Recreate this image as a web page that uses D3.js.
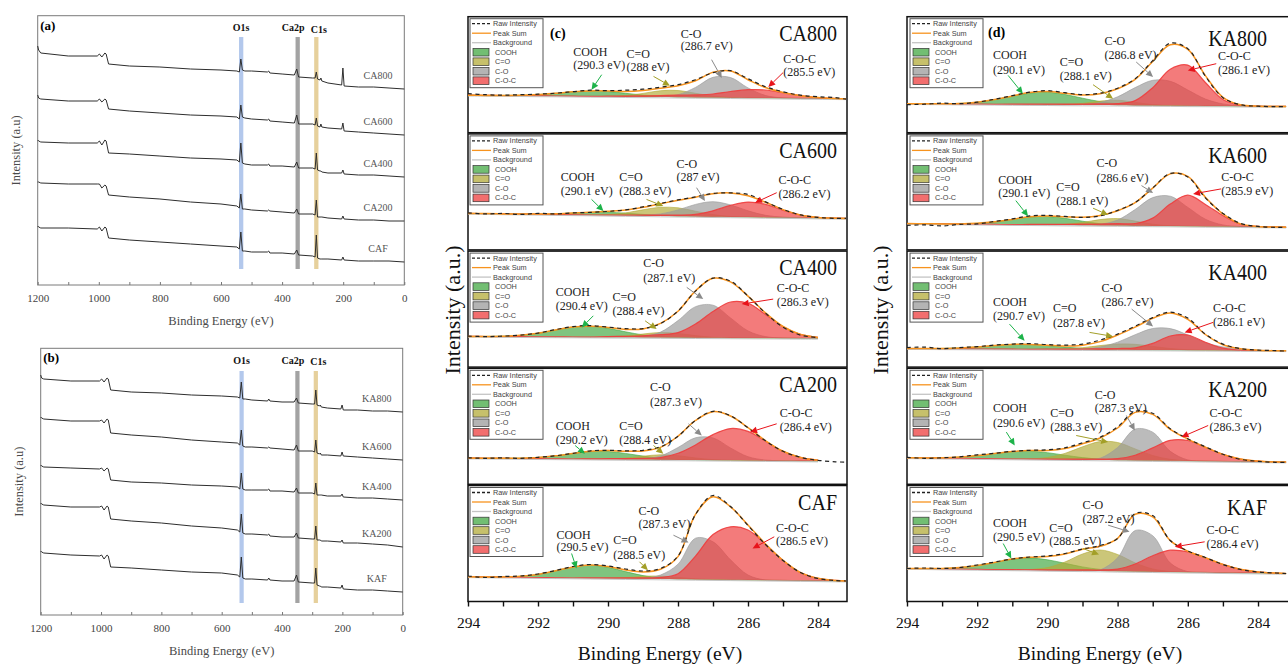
<!DOCTYPE html>
<html>
<head>
<meta charset="utf-8">
<script src="https://d3js.org/d3.v7.min.js"></script>
<style>
body { margin: 0; background: #fff; }
svg { display: block; }
svg text { font-family: "Liberation Serif", Tinos, "Times New Roman", Times, "DejaVu Serif", serif; }
</style>
</head>
<body>
<script>
// ---------- survey spectra (a), (b) ----------
var surveyEnergy = [1200, 1197, 1190, 1100, 1005, 998, 990, 980, 976, 968, 900, 800, 700, 600, 548, 540, 535, 530, 522, 500, 448, 444, 440, 400, 360, 352, 346, 300, 292, 288, 284, 276, 273, 270, 250, 205, 201, 197, 150, 100, 50, 0];
var surveyTicks = [1200, 1000, 800, 600, 400, 200, 0];

var ca800Survey = [239,235,232,229,229,231,228,232,231,221,219,218,216,215,214,213,226,215,214,214,213,214,212,211,210,216,208,207,207,213,206,205,207,204,202,200,217,199,198,198,197,196];
var ca600Survey = [190,187,186,184,184,186,183,186,185,176,174,172,170,169,168,166,180,168,167,166,165,166,164,163,162,170,161,161,160,167,159,158,161,158,157,156,162,154,153,152,151,150];
var ca400Survey = [145,144,143,142,142,144,140,145,144,132,131,129,127,126,125,123,142,122,121,120,120,121,119,119,118,123,117,117,116,132,115,114,114,113,112,112,115,111,110,110,109,108];
var ca200Survey = [103,103,102,101,101,101,97,100,99,90,88,86,83,81,79,77,91,76,76,75,74,75,74,73,72,76,71,71,70,85,68,68,68,68,67,66,69,66,65,65,64,64];
var cafSurvey   = [59,58,57,57,56,58,54,58,57,47,45,43,41,39,38,36,53,34,34,33,33,34,32,32,31,35,30,29,28,50,27,26,26,26,26,25,28,25,24,24,24,23];

var ka800Survey = [240,237,236,234,234,236,233,237,236,225,223,222,220,219,218,217,233,216,216,215,214,216,214,213,213,217,212,211,211,225,210,209,210,208,207,206,210,205,205,204,204,203];
var ka600Survey = [198,197,196,194,194,195,192,196,195,182,180,178,175,173,172,170,185,169,168,168,167,168,167,166,165,170,164,164,163,175,162,161,162,160,160,159,163,159,158,157,156,155];
var ka400Survey = [150,149,148,147,146,147,144,147,146,135,133,132,130,129,128,126,142,126,125,125,125,126,124,124,123,127,122,122,121,132,120,120,120,120,119,119,121,118,117,117,116,115];
var ka200Survey = [112,111,110,108,108,109,105,109,108,96,94,92,89,87,85,83,101,82,81,81,80,81,79,78,78,82,77,76,76,89,75,75,75,74,74,73,75,72,72,71,70,68];
var kafSurvey   = [64,63,62,60,59,60,56,60,59,48,47,45,43,42,40,38,58,37,36,36,35,37,35,34,34,40,33,32,32,47,30,29,29,28,28,27,30,26,25,25,24,23];

var caNames = ["CA800", "CA600", "CA400", "CA200", "CAF"];
var kaNames = ["KA800", "KA600", "KA400", "KA200", "KAF"];

var bandNames = ["O1s", "Ca2p", "C1s"];
var bandEnergy = [[541, 527], [356, 342], [295, 281]];

// ---------- C1s high resolution (c), (d) ----------
var hrEnergy = [294, 293.5, 293, 292.5, 292, 291.5, 291, 290.5, 290, 289.5, 289, 288.5, 288, 287.5, 287, 286.5, 286, 285.5, 285, 284.5, 284, 283.5, 283.2];
var hrTicks = [294, 292, 290, 288, 286, 284];
var hrMinorTicks = [293, 291, 289, 287, 285];
var componentNames = ["COOH", "C=O", "C-O", "C-O-C"];

var ca800Raw  = [39,38,37.5,38,38.5,39.5,41,42.5,42,42.5,43.5,45.5,48,53,60,62,54,46,41,37.5,36,35,33.5];
var ca800Bg   = [37.5,37.3,37.2,37,36.8,36.7,36.5,36.3,36.2,36,35.8,35.7,35.5,35.3,35.2,35,34.8,34.7,34.5,34.3,34.2,34,33.9];
var ca800Cooh = [0,0,0.1,0.4,1.3,2.7,4.4,5.5,5,3.4,1.8,0.7,0.2,0,0,0,0,0,0,0,0,0,0];
var ca800Cdo  = [0,0,0,0,0,0,0,0,0.2,1.1,3.5,6.3,6.7,4.1,1.5,0.3,0,0,0,0,0,0,0];
var ca800Co   = [0,0,0,0,0,0,0,0,0,0,0,0.3,2.5,10,20.2,20.2,10,2.5,0.3,0,0,0,0];
var ca800Coc  = [0,0,0,0,0,0,0,0,0.3,0.6,1,1.5,2,2.5,3.5,6.2,8.2,8,5.5,2.7,0.9,0.2,0];

var ca600Raw  = [37,36,36.5,35.5,36.5,36,37,37.5,38.5,40,43,46.5,50,53,56.5,57,55.5,48,40.5,35,32.5,31.5,31.5];
var ca600Bg   = [36.5,36.3,36,35.8,35.6,35.3,35.1,34.9,34.6,34.4,34.2,33.9,33.7,33.5,33.2,33,32.8,32.5,32.3,32.1,31.8,31.6,31.5];
var ca600Cooh = [0,0,0,0.1,0.2,0.8,1.7,2.7,3,2.3,1.3,0.5,0.1,0,0,0,0,0,0,0,0,0,0];
var ca600Cdo  = [0,0,0,0,0,0,0,0,0.7,2.6,5.9,8.7,8.4,5.2,2.1,0.5,0.1,0,0,0,0,0,0];
var ca600Co   = [0,0,0,0,0,0,0,0,0,0,0.5,2.1,6.3,12,15,12,6.3,2.1,0.5,0,0,0,0];
var ca600Coc  = [0,0,0,0,0,0,0,0,0.3,0.5,0.7,0.9,1.1,2,5.9,11.5,15,13,7.5,2.8,0.7,0.1,0];

var ca400Raw  = [31,30.5,31,32,34,37.5,40.5,41.5,40,38.5,38.5,43.5,56,76,89,86,71,54,40,32,29.5,null,null];
var ca400Bg   = [30.7,30.6,30.5,30.4,30.3,30.2,30.1,30,29.9,29.8,29.7,29.6,29.5,29.4,29.3,29.2,29.1,29,28.9,28.8,28.7,null,null];
var ca400Cooh = [0,0.1,0.4,1.4,3.5,6.9,10,10.9,8.9,5.5,2.5,0.9,0.2,0,0,0,0,0,0,0,0,null,null];
var ca400Cdo  = [0,0,0,0,0,0,0,0,0.3,1.4,3.4,5,4.2,2.1,0.6,0.1,0,0,0,0,0,null,null];
var ca400Co   = [0,0,0,0,0,0,0,0,0,0,1,5.4,17,31,32.6,20,7.1,1.5,0.2,0,0,null,null];
var ca400Coc  = [0,0,0,0,0,0,0,0,0.6,1,1.6,2.8,5,13.7,26.3,35.9,34.8,23.7,11.5,3.9,1,null,null];

var ca200Raw  = [26.5,26,26.5,26,27,28.5,31,33.5,34,33.5,34,37.5,48,64,73,68.5,56.5,43.5,33,27,24,22.5,22.2];
var ca200Bg   = [26.2,26.05,25.9,25.75,25.6,25.45,25.3,25.15,25,24.85,24.7,24.55,24.4,24.25,24.1,23.95,23.8,23.65,23.5,23.35,23.2,null,null];
var ca200Cooh = [0,0,0.1,0.4,1.2,3,5.5,7.6,7.8,6,3.5,1.5,0.5,0.1,0,0,0,0,0,0,0,null,null];
var ca200Cdo  = [0,0,0,0,0,0,0,0,0.3,1.4,3.4,5,4.2,2.1,0.6,0.1,0,0,0,0,0,null,null];
var ca200Co   = [0,0,0,0,0,0,0,0,0,0,0.6,3.8,12.4,22.3,22.3,12.4,3.8,0.6,0,0,0,null,null];
var ca200Coc  = [0,0,0,0,0,0,0,0.3,0.6,0.9,1.2,2.1,6.6,15.1,25.6,31.8,29.1,19.4,9.5,3.5,0.9,null,null];

var cafRaw  = [25.5,24,25,25.5,27.5,31,35,37,35.5,32.5,30.5,33,45.5,87,106,95,76,57,41,29,23,21,20.5];
var cafBg   = [24.7,24.5,24.3,24.1,23.9,23.7,23.5,23.3,23.1,22.9,22.7,22.5,22.3,22.1,21.9,21.7,21.5,21.3,21.1,20.9,20.7,20.5,20.4];
var cafCooh = [0,0,0.3,1.1,3.2,7,11.1,13,11.1,7,3.2,1.1,0.3,0,0,0,0,0,0,0,0,0,0];
var cafCdo  = [0,0,0,0,0,0,0,0,0.2,1,2.4,3,1.8,0.6,0.1,0,0,0,0,0,0,0,0];
var cafCo   = [0,0,0,0,0,0,0,0,0,0,0.4,4,15,41.2,37.8,20,5,0.2,0,0,0,0,0];
var cafCoc  = [0,0,0,0,0,0,0,0.3,0.5,0.7,0.9,1.6,5.5,23.3,45,53,50,36,20,8,2.5,0.6,0.1];

var ka800Raw  = [28,28.5,29.5,29,30.5,33.5,37,40.5,42,40,38,39.5,44.5,54,72,89.5,84,56.5,35,28,26.5,26,26];
var ka800Bg   = [29,28.9,28.8,28.6,28.5,28.4,28.2,28.1,28,27.8,27.7,27.6,27.5,27.3,27.2,27.1,26.9,26.8,26.7,26.5,26.4,26.3,26.3];
var ka800Cooh = [0,0,0.2,0.7,2,4.7,8.3,11.5,12.4,10.4,6.8,3.5,1.4,0.4,0.1,0,0,0,0,0,0,0,0];
var ka800Cdo  = [0,0,0,0,0,0,0,0,0,0.3,1.6,4,5,3,0.9,0.2,0,0,0,0,0,0,0];
var ka800Co   = [0,0,0,0,0,0,0,0,0,0,0.6,2.6,8.4,17.8,25.2,24.3,15.8,6.9,2.1,0.4,0,0,0];
var ka800Coc  = [0,0,0,0,0,0,0.3,0.5,0.7,0.9,1,1.2,1.6,4.8,17.8,36.4,40.7,23.4,6.6,1,0.1,0,0];

var ka600Raw  = [24.5,25,24,25.5,26,28.5,31,34,34.5,33.5,32.5,34,39.5,47.5,62,76.5,73,52,36.5,26.5,23.5,22.5,22.5];
var ka600Bg   = [26.3,26.1,26,25.8,25.7,25.5,25.3,25.2,25,24.8,24.7,24.5,24.4,24.2,24,23.9,23.7,23.5,23.4,23.2,23,22.9,22.7];
var ka600Cooh = [0,0,0,0.2,0.9,2.6,5.2,7.7,8.4,6.8,4,1.7,0.6,0.1,0,0,0,0,0,0,0,0,0];
var ka600Cdo  = [0,0,0,0,0,0,0,0,0,0.7,2.7,5.8,6.9,4.6,1.7,0.3,0,0,0,0,0,0,0];
var ka600Co   = [0,0,0,0,0,0,0,0,0,0,0.1,1.1,5.5,16.2,28.3,29.8,18.8,7.2,1.6,0.3,0,0,0];
var ka600Coc  = [0,0,0,0,0,0,0,0.3,0.5,0.8,1.1,1.4,1.8,2.2,7.8,22,31,22,11,2.5,0.5,0,0];

var ka400Raw  = [19.5,20,18.5,19.5,20.5,22,23,23.5,22.5,22,23,27,33,41,49.5,55,49,33,23,18.5,17,16.5,16];
var ka400Bg   = [18.5,18.4,18.3,18.2,18.1,18,17.9,17.8,17.7,17.6,17.5,17.4,17.3,17.2,17.1,17,16.9,16.8,16.7,16.6,16.5,16.4,16.3];
var ka400Cooh = [0,0.1,0.4,1,2.1,3.6,4.8,4.9,3.9,2.4,1.2,0.4,0.1,0,0,0,0,0,0,0,0,0,0];
var ka400Cdo  = [0,0,0,0,0,0,0,0,0.1,0.6,1.9,4.1,5.8,5.6,3.6,1.6,0.5,0.1,0,0,0,0,0];
var ka400Co   = [0,0,0,0,0,0,0,0,0,0,0.7,2.7,7.6,15.2,21.5,21.5,15.2,7.6,3.5,1.5,0.4,0,0];
var ka400Coc  = [0,0,0,0,0,0,0,0,0.2,0.4,0.6,0.9,1.3,2,6.6,14.1,15.2,8.1,2.2,0.3,0,0,0];

var ka200Raw  = [27,26,26.5,27.5,29.5,31,33,34,34.5,36.5,41.5,47,57.5,73,71,55.5,45.5,37.5,30,25,23,22,22];
var ka200Bg   = [26.5,26.3,26.1,25.9,25.7,25.5,25.3,25.1,24.9,24.7,24.5,24.3,24.1,23.9,23.7,23.5,23.3,23.1,22.9,22.7,22.5,22.3,22.2];
var ka200Cooh = [0,0.1,0.4,1.3,3,5.3,7.4,8,6.7,4.4,2.2,0.9,0.3,0,0,0,0,0,0,0,0,0,0];
var ka200Cdo  = [0,0,0,0,0,0,0,0.4,1.9,6.2,13,18.4,17.7,11.5,5.1,1.5,0.3,0,0,0,0,0,0];
var ka200Co   = [0,0,0,0,0,0,0,0,0,0,0.1,1.8,12.7,31.3,28.4,9.5,1.1,0,0,0,0,0,0];
var ka200Coc  = [0,0,0,0,0,0,0,0.2,0.3,0.5,0.7,0.9,1.5,5.2,12.7,20.5,20.5,14,7,2.5,0.7,0,0];

var kafRaw  = [33,33.5,33,34,36.5,39.5,42.5,44.5,45.5,48,52.5,56,63,88,86,61,50.5,44,37,32,29.5,28.5,28];
var kafBg   = [33,32.8,32.5,32.3,32.1,31.8,31.6,31.4,31.1,30.9,30.7,30.5,30.2,30,29.8,29.5,29.3,29.1,28.8,28.6,28.4,28.1,28];
var kafCooh = [0,0.1,0.5,1.6,3.9,7.3,10.6,12,10.6,7.3,3.9,1.6,0.5,0.1,0,0,0,0,0,0,0,0,0];
var kafCdo  = [0,0,0,0,0,0,0,0.6,2.8,8.6,16.8,21,16.8,8.6,2.8,0.6,0.1,0,0,0,0,0,0];
var kafCo   = [0,0,0,0,0,0,0,0,0,0,0,1.1,13.5,41,36,9,0.6,0,0,0,0,0,0];
var kafCoc  = [0,0,0,0,0,0,0.2,0.3,0.5,0.7,0.9,1,2.2,7.5,16,21.8,20.3,14.7,8.3,3.6,1.2,0.3,0];

// peak position labels
var ca800Peaks = ["(290.3 eV)", "(288 eV)", "(286.7 eV)", "(285.5 eV)"];
var ca600Peaks = ["(290.1 eV)", "(288.3 eV)", "(287 eV)", "(286.2 eV)"];
var ca400Peaks = ["(290.4 eV)", "(288.4 eV)", "(287.1 eV)", "(286.3 eV)"];
var ca200Peaks = ["(290.2 eV)", "(288.4 eV)", "(287.3 eV)", "(286.4 eV)"];
var cafPeaks   = ["(290.5 eV)", "(288.5 eV)", "(287.3 eV)", "(286.5 eV)"];
var ka800Peaks = ["(290.1 eV)", "(288.1 eV)", "(286.8 eV)", "(286.1 eV)"];
var ka600Peaks = ["(290.1 eV)", "(288.1 eV)", "(286.6 eV)", "(285.9 eV)"];
var ka400Peaks = ["(290.7 eV)", "(287.8 eV)", "(286.7 eV)", "(286.1 eV)"];
var ka200Peaks = ["(290.6 eV)", "(288.3 eV)", "(287.3 eV)", "(286.3 eV)"];
var kafPeaks   = ["(290.5 eV)", "(288.5 eV)", "(287.2 eV)", "(286.4 eV)"];

// annotation anchors in data units: [textE, line1, line2, tailE, tailV, tipE, tipV]
var ca800Notes = [[290.99,76.3,63.7,290.18,58,290.47,43],[289.47,74.7,61.3,288.7,56.3,288.23,47],[287.92,94.7,82.3,287.04,73,286.75,54.7],[284.99,69.7,56.3,285.0,60,285.42,45.7]];
var ca600Notes = [[291.35,68.8,54.8,290.47,50.5,290.13,38.8],[289.68,68.8,54.8,288.9,50.5,288.42,43.8],[288.04,82.2,68.8,287.47,62.2,287.23,48.8],[285.13,65.5,52.2,285.18,57.2,285.8,47.2]];
var ca400Notes = [[291.49,71.3,57.3,290.42,51.3,290.75,39.7],[289.87,66.3,52.3,288.94,46.3,288.61,38],[288.99,99.7,84.7,287.75,79.7,287.28,68],[285.18,74.7,60.7,285.28,68,286.18,63]];
var ca200Notes = [[291.49,54.5,40.5,290.94,38.8,290.66,30.5],[289.68,54.5,40.5,288.7,38.8,288.42,30.5],[288.8,93.2,78.8,287.7,60.5,287.32,48.8],[285.09,67.2,53.8,285.18,60.5,285.94,52.2]];
var cafNotes   = [[291.47,63,50.3,291.04,48,290.9,33],[289.85,58,43,289.1,39.7,288.86,31.3],[289.13,86.3,73.7,288.13,66.3,287.7,59],[285.2,69.7,57,285.25,64.7,285.87,53]];
var ka800Notes = [[291.55,74,59,291.12,57.3,290.7,39],[289.65,66.7,52.3,288.7,48,288.13,34],[288.37,88,74,287.47,70.7,286.99,55.7],[285.14,72.3,59,285.19,69,286,62.3]];
var ka600Notes = [[291.4,66,52.7,290.9,49.3,290.55,33.7],[289.75,59.3,45,288.7,41.7,288.27,35],[288.6,82.7,68.3,287.32,64.3,286.99,57],[285.05,69.3,55.3,285.05,61,285.85,56]];
var ka400Notes = [[291.55,61.3,47.3,291.08,43,290.65,26.3],[289.84,54.7,39.7,288.8,34.7,288.13,30.7],[288.46,75.3,60.7,287.6,58,286.99,40.7],[285.28,54.7,40.7,285.28,44.7,286.09,34.7]];
var ka200Notes = [[291.55,72.2,57.8,291.17,52.2,290.93,38.8],[289.92,67.2,53.8,289.18,48.8,288.27,42.2],[288.65,85.5,72.2,287.75,68.8,287.51,53.8],[285.38,67.2,53.8,285.42,58.8,286.18,47.2]];
var kafNotes   = [[291.55,74.7,60.3,291.26,58,291.03,43],[289.95,69.7,56.3,288.99,53,288.53,47],[289,93,79,288.27,76.3,287.66,69.7],[285.47,68,53.7,285.52,59.7,286.37,54.7]];

// ---------- styles ----------
var bandColors = ["#b3c8ec", "#a3a3a3", "#e6d09c"];
var compFill = ["#43a843", "#b3ab3a", "#9b9b9b", "#ee3d3d"];
var compArrow = ["#1db34a", "#a39f28", "#8a8a8a", "#e8141b"];
var SERIF = "'Liberation Serif', Tinos, 'Times New Roman', Times, 'DejaVu Serif', serif";
var SANS = "'Liberation Sans', Arimo, Arial, 'DejaVu Sans', sans-serif";

var _svg = d3.select("body").append("svg").attr("width", 1288).attr("height", 665)
    .attr("font-family", SERIF);

function _drawSurvey(box, names, series, tag) {
    var x = d3.scaleLinear().domain([1200, 0]).range([box.left, box.right]);
    var y = d3.scaleLinear().domain([0, box.bottom - box.top]).range([box.bottom, box.top]);
    var g = _svg.append("g");

    bandNames.forEach(function(name, i) {
        var x0 = x(bandEnergy[i][0]), x1 = x(bandEnergy[i][1]);
        g.append("rect").attr("x", x0).attr("y", box.bandTop).attr("width", x1 - x0)
            .attr("height", box.bandBottom - box.bandTop).style("fill", bandColors[i]);
        var shift = i == 1 ? -4.5 : (i == 2 ? 2.5 : 0);
        g.append("text").text(name).attr("x", (x0 + x1) / 2 + shift).attr("y", box.top + 15.5 + (i == 2 ? 1.5 : 0))
            .attr("text-anchor", "middle").style("font-weight", "bold").style("font-size", "10px").style("fill", "#111");
    });

    g.append("rect").attr("x", box.left).attr("y", box.top).attr("width", box.right - box.left)
        .attr("height", box.bottom - box.top).style("fill", "none").style("stroke", "#7a7a7a").style("stroke-width", 1);

    var line = d3.line().x(function(d) { return x(d[0]); }).y(function(d) { return y(d[1]); });
    series.forEach(function(s, i) {
        var pts = surveyEnergy.map(function(e, j) { return [e, s[j]]; });
        g.append("path").attr("d", line(pts)).style("fill", "none").style("stroke", "#2e2e2e").style("stroke-width", 1);
        g.append("text").text(names[i]).attr("x", x(86)).attr("y", y(s[s.length - 1] + 10))
            .attr("text-anchor", "middle").style("font-size", "10px").style("fill", "#555");
    });

    var ax = g.append("g").attr("transform", "translate(0," + box.bottom + ")")
        .call(d3.axisBottom(x).tickValues(surveyTicks).tickSize(0).tickPadding(9).tickFormat(d3.format("d")));
    ax.attr("font-family", null);
    ax.select(".domain").remove();
    ax.selectAll("text").style("font-size", "11px").style("fill", "#444");
    var mx = g.append("g").attr("transform", "translate(0," + box.bottom + ")")
        .call(d3.axisBottom(x).tickValues(d3.range(0, 1201, 100)).tickSize(-3).tickFormat(""));
    mx.select(".domain").remove();
    mx.selectAll("line").style("stroke", "#777");

    g.append("text").text("Binding Energy (eV)").attr("x", (box.left + box.right) / 2).attr("y", box.bottom + 40)
        .attr("text-anchor", "middle").style("font-size", "12.5px").style("fill", "#4a4a4a");
    g.append("text").text("Intensity (a.u)").attr("transform", "translate(" + box.ytitle + "," + ((box.top + box.bottom) / 2) + ") rotate(-90)")
        .attr("text-anchor", "middle").style("font-size", "12.5px").style("fill", "#4a4a4a");
    g.append("text").text(tag).attr("x", box.left + 2.5).attr("y", box.top + 14).style("font-weight", "bold").style("font-size", "13px");
}//EndFunction.

var _legendRows = [
    { label: "Raw Intensity", kind: "line", color: "#222", dash: "3,2" },
    { label: "Peak Sum", kind: "line", color: "#f7931e" },
    { label: "Background", kind: "line", color: "#c4c4c4" },
    { label: "COOH", kind: "box", color: compFill[0] },
    { label: "C=O", kind: "box", color: compFill[1] },
    { label: "C-O", kind: "box", color: compFill[2] },
    { label: "C-O-C", kind: "box", color: compFill[3] }
];

function _drawLegend(g, lx, ly) {
    g.append("rect").attr("x", lx).attr("y", ly).attr("width", 73).attr("height", 69)
        .style("fill", "#fff").style("stroke", "#555").style("stroke-width", 1);
    _legendRows.forEach(function(r, i) {
        var cy = ly + 5 + i * 9.5;
        if (r.kind == "line") {
            g.append("line").attr("x1", lx + 2).attr("x2", lx + 21).attr("y1", cy).attr("y2", cy)
                .style("stroke", r.color).style("stroke-width", 1.3).style("stroke-dasharray", r.dash || null);
            g.append("text").text(r.label).attr("x", lx + 23).attr("y", cy + 2.5)
                .style("font-family", SANS).style("font-size", "7.3px").style("fill", "#444");
        } else {
            g.append("rect").attr("x", lx + 3).attr("y", cy - 3.8).attr("width", 16).attr("height", 7.6)
                .style("fill", r.color).style("fill-opacity", 0.75).style("stroke", "#333").style("stroke-width", 0.7);
            g.append("text").text(r.label).attr("x", lx + 25).attr("y", cy + 2.5)
                .style("font-family", SANS).style("font-size", "7.3px").style("fill", "#444");
        }
    });
}//EndFunction.

function _arrow(g, x1, y1, x2, y2, color) {
    var ang = Math.atan2(y2 - y1, x2 - x1), L = 7, W = 3.3;
    var bx = x2 - L * Math.cos(ang), by = y2 - L * Math.sin(ang);
    g.append("line").attr("x1", x1).attr("y1", y1).attr("x2", bx).attr("y2", by)
        .style("stroke", color).style("stroke-width", 1);
    var pts = [[x2, y2], [bx + W * Math.sin(ang), by - W * Math.cos(ang)], [bx - W * Math.sin(ang), by + W * Math.cos(ang)]];
    g.append("polygon").attr("points", pts.map(function(p) { return p.join(","); }).join(" ")).style("fill", color);
}//EndFunction.

var _cols = [
    { left: 468, right: 847, span: 378, labelRight: 837, labelDy: 24, tagX: 550, tagY: 38, legendX: 470 },
    { left: 907, right: 1300, span: 379.1, labelRight: 1267, labelDy: 29, tagX: 988, tagY: 37, legendX: 910 }
];

function _drawHR(p) {
    var col = _cols[p.col];
    var top = 16.7 + p.row * 117.2, bottom = top + 116;
    var x = d3.scaleLinear().domain([294, 283.2]).range([col.left, col.left + col.span]);
    var y = d3.scaleLinear().domain([0, 116]).range([bottom, top]);
    var g = _svg.append("g");

    g.append("rect").attr("x", col.left).attr("y", top).attr("width", col.right - col.left).attr("height", bottom - top)
        .style("fill", "#fff").style("stroke", "#111").style("stroke-width", 1.5);

    var pts = hrEnergy.map(function(e, i) {
        var sum = null;
        if (p.bg[i] != null) {
            sum = p.bg[i];
            p.comps.forEach(function(c) { sum += c[i]; });
        }
        return { e: e, raw: p.raw[i], bg: p.bg[i], sum: sum, c: p.comps.map(function(c) { return c[i]; }) };
    });
    var curve = d3.curveCatmullRom.alpha(0.5);

    p.comps.forEach(function(c, k) {
        var area = d3.area().defined(function(d) { return d.bg != null; }).curve(curve)
            .x(function(d) { return x(d.e); }).y0(function(d) { return y(d.bg); }).y1(function(d) { return y(d.bg + d.c[k]); });
        g.append("path").attr("d", area(pts)).style("fill", compFill[k]).style("fill-opacity", 0.68);
        var top_ = d3.line().defined(function(d) { return d.bg != null; }).curve(curve)
            .x(function(d) { return x(d.e); }).y(function(d) { return y(d.bg + d.c[k]); });
        g.append("path").attr("d", top_(pts)).style("fill", "none").style("stroke", compFill[k])
            .style("stroke-width", k == 3 ? 1.2 : 0.7).style("stroke-opacity", 0.9);
    });

    var bgLine = d3.line().defined(function(d) { return d.bg != null; }).curve(curve)
        .x(function(d) { return x(d.e); }).y(function(d) { return y(d.bg) + 0.8; });
    g.append("path").attr("d", bgLine(pts)).style("fill", "none").style("stroke", "#c4c4c4").style("stroke-width", 1);

    var sumLine = d3.line().defined(function(d) { return d.sum != null; }).curve(curve)
        .x(function(d) { return x(d.e); }).y(function(d) { return y(d.sum); });
    g.append("path").attr("d", sumLine(pts)).style("fill", "none").style("stroke", "#f7931e").style("stroke-width", 1.5);

    var rawLine = d3.line().defined(function(d) { return d.raw != null; }).curve(curve)
        .x(function(d) { return x(d.e); }).y(function(d) { return y(d.raw); });
    g.append("path").attr("d", rawLine(pts)).style("fill", "none").style("stroke", "#222")
        .style("stroke-width", 1.2).style("stroke-dasharray", "4,3.5");

    _drawLegend(g, col.legendX, top + 2);

    //ANNOTATIONS.
    p.notes.forEach(function(n, k) {
        g.append("text").text(componentNames[k]).attr("x", x(n[0])).attr("y", y(n[1]))
            .style("font-size", "12px").style("fill", "#222");
        g.append("text").text(p.peaks[k]).attr("x", x(n[0])).attr("y", y(n[2]))
            .style("font-size", "12px").style("fill", "#222");
        _arrow(g, x(n[3]), y(n[4]), x(n[5]), y(n[6]), compArrow[k]);
    });

    g.append("text").text(p.name)
        .attr("transform", "translate(" + col.labelRight + "," + (top + col.labelDy) + ") scale(1,1.2)")
        .attr("text-anchor", "end").style("font-size", "20px").style("fill", "#111");

    if (p.row == 0) {
        g.append("text").text(p.col == 0 ? "(c)" : "(d)").attr("x", col.tagX).attr("y", col.tagY)
            .style("font-weight", "bold").style("font-size", "14px");
    }

    if (p.row == 4) {
        var ax = g.append("g").attr("transform", "translate(0," + bottom + ")")
            .call(d3.axisBottom(x).tickValues(hrTicks).tickSize(5).tickPadding(10).tickFormat(d3.format("d")));
        ax.attr("font-family", null);
        ax.select(".domain").remove();
        ax.selectAll("line").style("stroke", "#111").style("stroke-width", 1.4);
        ax.selectAll("text").style("font-size", "15.5px").style("fill", "#111");
        var mx = g.append("g").attr("transform", "translate(0," + bottom + ")")
            .call(d3.axisBottom(x).tickValues(hrMinorTicks).tickSize(5).tickFormat(""));
        mx.select(".domain").remove();
        mx.selectAll("line").style("stroke", "#111").style("stroke-width", 1.4);
        g.append("text").text("Binding Energy (eV)")
            .attr("x", p.col == 0 ? 660 : 1100).attr("y", 660)
            .attr("text-anchor", "middle").style("font-size", "19.5px").style("fill", "#111");
    }
}//EndFunction.

function build() {
    _drawSurvey({ left: 37.7, right: 404.3, top: 15.7, bottom: 285, bandTop: 37, bandBottom: 269, ytitle: 20 },
        caNames, [ca800Survey, ca600Survey, ca400Survey, ca200Survey, cafSurvey], "(a)");
    _drawSurvey({ left: 40.7, right: 402.7, top: 348.3, bottom: 615, bandTop: 371, bandBottom: 603, ytitle: 23 },
        kaNames, [ka800Survey, ka600Survey, ka400Survey, ka200Survey, kafSurvey], "(b)");

    var panels = [
        { col: 0, row: 0, name: "CA800", raw: ca800Raw, bg: ca800Bg, comps: [ca800Cooh, ca800Cdo, ca800Co, ca800Coc], peaks: ca800Peaks, notes: ca800Notes },
        { col: 0, row: 1, name: "CA600", raw: ca600Raw, bg: ca600Bg, comps: [ca600Cooh, ca600Cdo, ca600Co, ca600Coc], peaks: ca600Peaks, notes: ca600Notes },
        { col: 0, row: 2, name: "CA400", raw: ca400Raw, bg: ca400Bg, comps: [ca400Cooh, ca400Cdo, ca400Co, ca400Coc], peaks: ca400Peaks, notes: ca400Notes },
        { col: 0, row: 3, name: "CA200", raw: ca200Raw, bg: ca200Bg, comps: [ca200Cooh, ca200Cdo, ca200Co, ca200Coc], peaks: ca200Peaks, notes: ca200Notes },
        { col: 0, row: 4, name: "CAF", raw: cafRaw, bg: cafBg, comps: [cafCooh, cafCdo, cafCo, cafCoc], peaks: cafPeaks, notes: cafNotes },
        { col: 1, row: 0, name: "KA800", raw: ka800Raw, bg: ka800Bg, comps: [ka800Cooh, ka800Cdo, ka800Co, ka800Coc], peaks: ka800Peaks, notes: ka800Notes },
        { col: 1, row: 1, name: "KA600", raw: ka600Raw, bg: ka600Bg, comps: [ka600Cooh, ka600Cdo, ka600Co, ka600Coc], peaks: ka600Peaks, notes: ka600Notes },
        { col: 1, row: 2, name: "KA400", raw: ka400Raw, bg: ka400Bg, comps: [ka400Cooh, ka400Cdo, ka400Co, ka400Coc], peaks: ka400Peaks, notes: ka400Notes },
        { col: 1, row: 3, name: "KA200", raw: ka200Raw, bg: ka200Bg, comps: [ka200Cooh, ka200Cdo, ka200Co, ka200Coc], peaks: ka200Peaks, notes: ka200Notes },
        { col: 1, row: 4, name: "KAF", raw: kafRaw, bg: kafBg, comps: [kafCooh, kafCdo, kafCo, kafCoc], peaks: kafPeaks, notes: kafNotes }
    ];
    panels.forEach(_drawHR);

    _svg.append("text").text("Intensity (a.u.)").attr("transform", "translate(460,310) rotate(-90)")
        .attr("text-anchor", "middle").style("font-size", "22px").style("fill", "#111");
    _svg.append("text").text("Intensity (a.u.)").attr("transform", "translate(888,310) rotate(-90)")
        .attr("text-anchor", "middle").style("font-size", "22px").style("fill", "#111");
}//EndFunction.

build();
</script>
</body>
</html>
